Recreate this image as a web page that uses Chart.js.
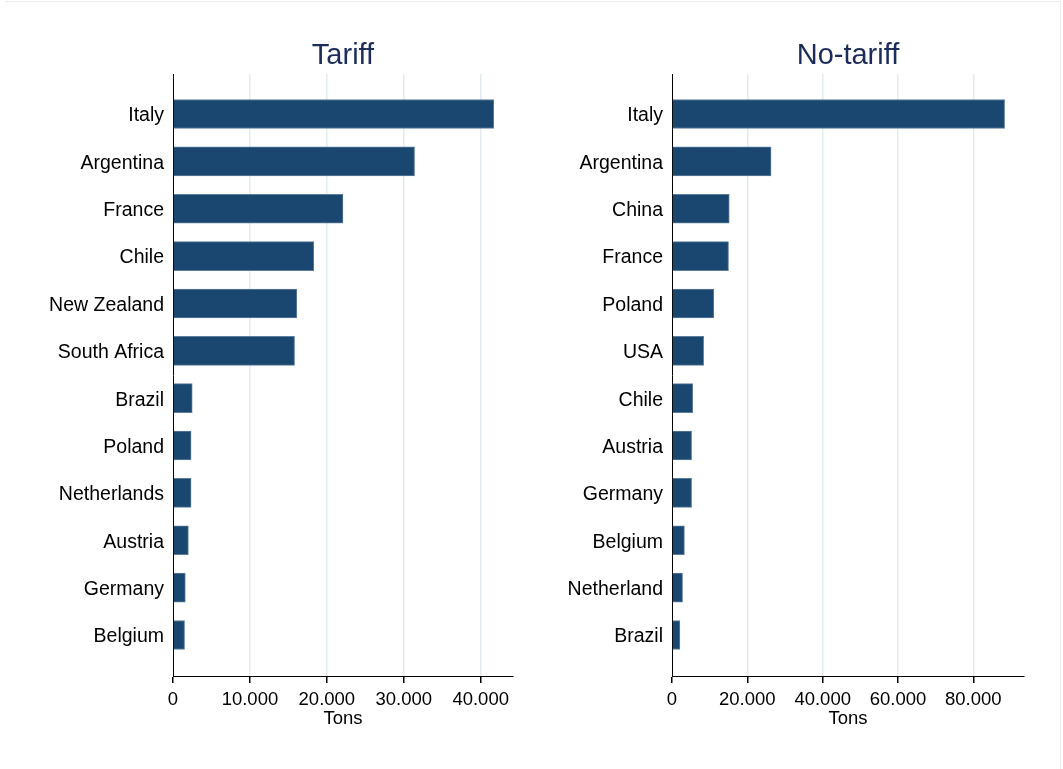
<!DOCTYPE html>
<html>
<head>
<meta charset="utf-8">
<script src="https://cdn.jsdelivr.net/npm/chart.js@4"></script>
<style>
  html, body { margin: 0; padding: 0; background: #fff; }
  #page { position: relative; width: 1063px; height: 769px; overflow: hidden; }
  #frame { position: absolute; left: 5px; top: 1px; width: 1055px; height: 780px;
           border-top: 1px solid #ececec; border-right: 1px solid #ececec; }
  canvas { position: absolute; top: 0; }
</style>
</head>
<body>
<div id="page">
  <div id="frame"></div>
  <canvas id="tariffChart" width="531" height="769" style="left:0"></canvas>
  <canvas id="freeChart" width="563" height="769" style="left:500px"></canvas>
</div>
<script>
// Import volumes in tons, sorted from largest to smallest
const tariffCountries = ['Italy', 'Argentina', 'France', 'Chile', 'New Zealand', 'South Africa',
                         'Brazil', 'Poland', 'Netherlands', 'Austria', 'Germany', 'Belgium'];
const tariffTons = [41700, 31400, 22100, 18300, 16100, 15800, 2500, 2350, 2350, 2000, 1600, 1500];

const freeCountries = ['Italy', 'Argentina', 'China', 'France', 'Poland', 'USA',
                       'Chile', 'Austria', 'Germany', 'Belgium', 'Netherland', 'Brazil'];
const freeTons = [88300, 26300, 15200, 15000, 11100, 8400, 5500, 5200, 5200, 3300, 2800, 2100];

const tariffTicks = [0, 10000, 20000, 30000, 40000];
const freeTicks = [0, 20000, 40000, 60000, 80000];

const FONT = 'Liberation Sans, Arial, sans-serif';
const BAR = '#1a476f';

function fmt(v) {
    return String(v).replace(/\B(?=(\d{3})+(?!\d))/g, '.');
}

// panel title centred over the plot area
const panelTitle = {
    id: 'panelTitle',
    afterDraw(chart, args, opts) {
        const ctx = chart.ctx;
        const a = chart.chartArea;
        ctx.save();
        ctx.font = '29px ' + FONT;
        ctx.fillStyle = '#1c2d5a';
        ctx.textAlign = 'center';
        ctx.textBaseline = 'middle';
        ctx.fillText(opts.text, (a.left + a.right) / 2, 56);
        ctx.restore();
    }
};

function makePanel(id, title, countries, tons, ticks, xMax, yWidth, padRight) {
    new Chart(document.getElementById(id), {
        type: 'bar',
        data: {
            datasets: [{
                data: tons.map((v, i) => ({ x: v, y: i })),
                backgroundColor: BAR,
                borderColor: '#5d7d9c',
                borderWidth: 1,
                borderSkipped: 'left',
                barThickness: 29
            }]
        },
        plugins: [panelTitle],
        options: {
            indexAxis: 'y',
            responsive: false,
            animation: false,
            layout: { padding: { top: 74, right: padRight, left: 0, bottom: 39 } },
            plugins: {
                legend: { display: false },
                tooltip: { enabled: false },
                panelTitle: { text: title }
            },
            scales: {
                x: {
                    type: 'linear',
                    min: 0,
                    max: xMax,
                    afterFit: (s) => { s.height = 54; },
                    afterBuildTicks: (s) => { s.ticks = ticks.map(v => ({ value: v })); },
                    border: { display: true, color: '#000', width: 1 },
                    grid: {
                        color: (c) => c.tick && c.tick.value === 0 ? 'rgba(0,0,0,0)' : '#e2ebf0',
                        lineWidth: 1.5,
                        tickColor: '#000',
                        tickLength: 7,
                        drawTicks: true
                    },
                    ticks: {
                        color: '#000',
                        font: { family: FONT, size: 18.5 },
                        padding: 6,
                        maxRotation: 0,
                        callback: (v) => fmt(v)
                    },
                    title: {
                        display: true,
                        text: 'Tons',
                        color: '#000',
                        font: { family: FONT, size: 18.5 },
                        padding: { top: 0, bottom: 0 }
                    }
                },
                y: {
                    type: 'linear',
                    reverse: true,
                    offset: false,
                    min: -0.845,
                    max: 11.866,
                    afterFit: (s) => { s.width = yWidth; },
                    border: { display: true, color: '#000', width: 1 },
                    grid: { display: false, drawTicks: false },
                    ticks: {
                        stepSize: 1,
                        includeBounds: false,
                        autoSkip: false,
                        color: '#000',
                        padding: 9,
                        labelOffset: 2,
                        font: { family: FONT, size: 19.5 },
                        callback: (v) => countries[v] !== undefined ? countries[v] : ''
                    }
                }
            }
        }
    });
}

makePanel('tariffChart', 'Tariff', tariffCountries, tariffTons, tariffTicks, 44200, 173, 18);
makePanel('freeChart', 'No-tariff', freeCountries, freeTons, freeTicks, 93450, 172, 39);
</script>
</body>
</html>
